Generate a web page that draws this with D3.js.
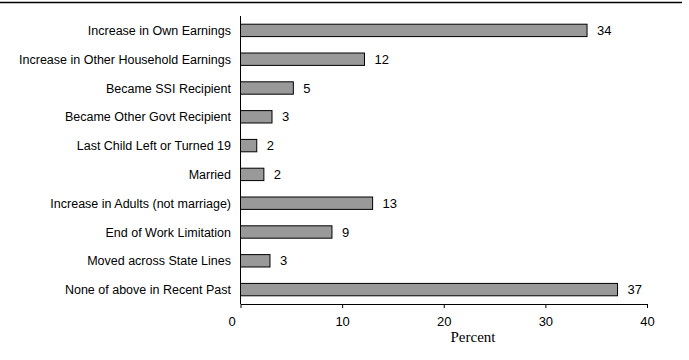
<!DOCTYPE html>
<html>
<head>
<meta charset="utf-8">
<script src="https://cdn.jsdelivr.net/npm/d3@7"></script>
<style>
  body { margin: 0; background: #fff; }
  text { font-family: "Liberation Sans", Arial, sans-serif; }
</style>
</head>
<body>
<div id="chart"></div>
<script>
// chart data
var categories = [
  "Increase in Own Earnings",
  "Increase in Other Household Earnings",
  "Became SSI Recipient",
  "Became Other Govt Recipient",
  "Last Child Left or Turned 19",
  "Married",
  "Increase in Adults (not marriage)",
  "End of Work Limitation",
  "Moved across State Lines",
  "None of above in Recent Past"
];
var values = [34.1, 12.2, 5.2, 3.1, 1.6, 2.3, 13.0, 9.0, 2.9, 37.1];
var valueLabels = ["34", "12", "5", "3", "2", "2", "13", "9", "3", "37"];
var xTicks = [0, 10, 20, 30, 40];

var svgWidth = 689;
var svgHeight = 360;

var svg = d3.select("#chart")
  .append("svg")
  .attr("width", svgWidth)
  .attr("height", svgHeight);

// top rule
svg.append("line")
  .attr("x1", 0).attr("x2", 682)
  .attr("y1", 2.5).attr("y2", 2.5)
  .attr("stroke", "#000")
  .attr("stroke-width", 1.5);

var xScale = d3.scaleLinear()
  .domain([0, 40])
  .range([240.5, 647]);

var yScale = d3.scaleBand()
  .domain(categories)
  .range([16, 304])
  .paddingInner(0.57)
  .paddingOuter(0.285);

// bars
svg.selectAll("rect.bar")
  .data(values)
  .enter()
  .append("rect")
  .attr("class", "bar")
  .attr("x", xScale(0))
  .attr("y", (d, i) => yScale(categories[i]))
  .attr("width", d => xScale(d) - xScale(0))
  .attr("height", yScale.bandwidth())
  .attr("fill", "#999999")
  .attr("stroke", "#000")
  .attr("stroke-width", 1);

// value labels
svg.selectAll("text.val")
  .data(values)
  .enter()
  .append("text")
  .attr("class", "val")
  .attr("x", d => xScale(d) + 10)
  .attr("y", (d, i) => yScale(categories[i]) + yScale.bandwidth() / 2)
  .attr("dy", "0.36em")
  .style("font-size", "13px")
  .text((d, i) => valueLabels[i]);

// category labels
svg.selectAll("text.cat")
  .data(categories)
  .enter()
  .append("text")
  .attr("class", "cat")
  .attr("x", 231)
  .attr("y", d => yScale(d) + yScale.bandwidth() / 2)
  .attr("dy", "0.36em")
  .attr("text-anchor", "end")
  .style("font-size", "12.5px")
  .text(d => d);

// y axis line
svg.append("line")
  .attr("x1", xScale(0)).attr("x2", xScale(0))
  .attr("y1", 16).attr("y2", 304)
  .attr("stroke", "#000");

// x axis
var bottomAxis = d3.axisBottom(xScale)
  .tickValues(xTicks)
  .tickSize(4)
  .tickSizeOuter(0);

var xAxis = svg.append("g")
  .attr("transform", "translate(0,304)")
  .call(bottomAxis);

xAxis.select(".domain").attr("stroke", "#000");
xAxis.selectAll(".tick line").attr("stroke", "#000");
xAxis.selectAll(".tick text")
  .attr("y", 13)
  .attr("dx", d => d === 0 ? -9 : 0)
  .style("font-family", "'Liberation Sans', Arial, sans-serif")
  .style("font-size", "13px")
  .attr("fill", "#000");

// axis title
svg.append("text")
  .attr("x", 473)
  .attr("y", 342)
  .attr("text-anchor", "middle")
  .style("font-family", "'Liberation Serif', 'Times New Roman', serif")
  .style("font-size", "15px")
  .text("Percent");
</script>
</body>
</html>
